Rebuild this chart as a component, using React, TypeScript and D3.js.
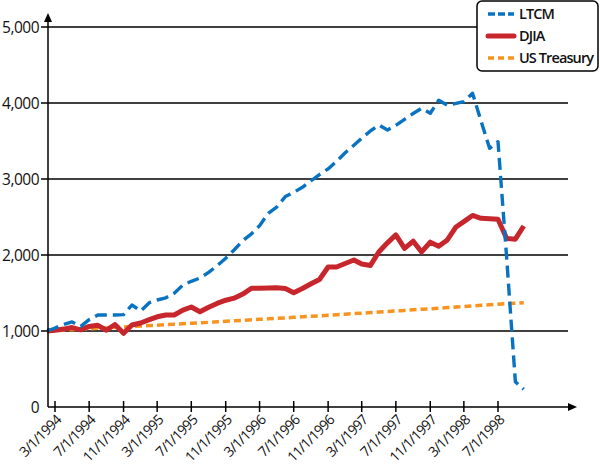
import React from "react";
import * as d3 from "d3";

// monthly observations, Feb 1994 .. Oct 1998
const firstMonth = new Date(1994, 1, 1);
const afterLastMonth = new Date(1998, 10, 1);
const months = d3.timeMonth.range(firstMonth, afterLastMonth);

// value of $1,000 invested
const ltcm = [
  1000, 1040, 1085, 1120, 1060, 1150, 1211, 1211, 1211, 1215, 1342, 1263,
  1373, 1408, 1436, 1496, 1605, 1654, 1697, 1771, 1858, 1957, 2066, 2188,
  2278, 2385, 2549, 2629, 2769, 2824, 2891, 2977, 3058, 3133, 3232, 3345,
  3444, 3537, 3632, 3711, 3645, 3706, 3785, 3862, 3931, 3865, 4036, 3970,
  3995, 4018, 4128, 3766, 3404, 3491, 1961, 333, 233,
];
const djia = [
  1000, 1010, 1025, 1045, 1015, 1060, 1075, 1010, 1086, 970, 1079, 1105,
  1149, 1187, 1211, 1211, 1274, 1316, 1254, 1313, 1363, 1405, 1432, 1486,
  1562, 1562, 1566, 1570, 1560, 1504, 1560, 1621, 1678, 1842, 1842, 1888,
  1935, 1882, 1862, 2040, 2160, 2264, 2088, 2182, 2040, 2169, 2116, 2198,
  2369, 2439, 2520, 2483, 2477, 2471, 2217, 2208, 2382,
];
const treasury = [
  1000, 1006, 1011, 1017, 1023, 1029, 1035, 1041, 1047, 1053, 1059, 1065,
  1071, 1077, 1083, 1089, 1095, 1102, 1108, 1114, 1121, 1127, 1134, 1140,
  1147, 1153, 1160, 1166, 1173, 1180, 1187, 1193, 1200, 1207, 1214, 1221,
  1228, 1235, 1242, 1250, 1257, 1264, 1271, 1279, 1286, 1293, 1301, 1308,
  1316, 1323, 1331, 1338, 1345, 1352, 1359, 1366, 1373,
];

const tickLabels = [
  "3/1/1994", "7/1/1994", "11/1/1994", "3/1/1995", "7/1/1995", "11/1/1995",
  "3/1/1996", "7/1/1996", "11/1/1996", "3/1/1997", "7/1/1997", "11/1/1997",
  "3/1/1998", "7/1/1998",
];
const yTicks = [0, 1000, 2000, 3000, 4000, 5000];

const series = [
  { name: "LTCM", values: ltcm, color: "#0a73c1", width: 3.4, dash: "12,6", legendDash: "7,3" },
  { name: "DJIA", values: djia, color: "#c8262d", width: 5, dash: null, legendDash: null },
  { name: "US Treasury", values: treasury, color: "#f7931e", width: 3.5, dash: "7,4", legendDash: "6,4" },
];

const font = "'Open Sans', sans-serif";

export default function App() {
  const width = 600,
    height = 466;
  const axisX = 48,
    axisY = 407;

  const parse = d3.timeParse("%m/%d/%Y");
  const xScale = d3
    .scaleTime()
    .domain([parse(tickLabels[0]), parse(tickLabels[tickLabels.length - 1])])
    .range([55, 498]);
  const yScale = d3.scaleLinear().domain([0, 5000]).range([axisY, 27]);
  const fmt = d3.format(",");

  const line = (vals) =>
    d3
      .line()
      .x((d, i) => xScale(months[i]))
      .y((d) => yScale(d))(vals);

  // draw order: bottom to top
  const drawOrder = [series[2], series[1], series[0]];

  return (
    <svg
      width={width}
      height={height}
      style={{ position: "absolute", left: 0, top: 0, background: "#fff" }}
    >
      {/* grid */}
      {yTicks.slice(1).map((t) => (
        <g key={t}>
          <line x1={axisX} x2={568} y1={yScale(t)} y2={yScale(t)} stroke="#000" strokeWidth={1.5} />
          <line x1={41} x2={axisX} y1={yScale(t)} y2={yScale(t)} stroke="#000" strokeWidth={1.5} />
        </g>
      ))}
      {yTicks.map((t) => (
        <text
          key={"l" + t}
          x={39}
          y={yScale(t)}
          dy="0.36em"
          textAnchor="end"
          fontFamily={font}
          fontSize={15.5}
          letterSpacing={-0.5}
          fill="#111"
        >
          {fmt(t)}
        </text>
      ))}

      {/* series */}
      {drawOrder.map((s) => (
        <path
          key={s.name}
          d={line(s.values)}
          fill="none"
          stroke={s.color}
          strokeWidth={s.width}
          strokeDasharray={s.dash || undefined}
          strokeLinejoin="round"
        />
      ))}

      {/* x axis */}
      <line x1={axisX} x2={571} y1={axisY} y2={axisY} stroke="#000" strokeWidth={1.5} />
      <path d={`M577,${axisY} L568,${axisY - 4} L568,${axisY + 4} Z`} fill="#000" />
      {tickLabels.map((lab) => {
        const x = xScale(parse(lab));
        return (
          <g key={lab}>
            <line x1={x} x2={x} y1={axisY - 6} y2={axisY + 5} stroke="#000" strokeWidth={1.5} />
            <text
              transform={`translate(${x + 7},${axisY + 14}) rotate(-45)`}
              textAnchor="end"
              fontFamily={font}
              fontSize={14}
              letterSpacing={-0.8}
              fill="#111"
            >
              {lab}
            </text>
          </g>
        );
      })}

      {/* y axis */}
      <line x1={axisX} x2={axisX} y1={axisY} y2={20} stroke="#000" strokeWidth={1.5} />
      <path d={`M${axisX},13 L${axisX - 4},22 L${axisX + 4},22 Z`} fill="#000" />

      {/* legend */}
      <g>
        <rect x={477} y={1} width={121} height={70} rx={5} fill="#fff" stroke="#000" strokeWidth={1.5} />
        {series.map((s, i) => {
          const ly = [14, 36, 58][i];
          return (
            <g key={s.name}>
              <line
                x1={488}
                x2={514}
                y1={ly}
                y2={ly}
                stroke={s.color}
                strokeWidth={s.dash ? 3.4 : 5}
                strokeDasharray={s.legendDash || undefined}
                strokeLinecap={s.dash ? "butt" : "round"}
              />
              <text
                x={519}
                y={ly}
                dy="0.36em"
                fontFamily={font}
                fontSize={14.5}
                fontWeight={600}
                letterSpacing={-0.9}
                fill="#111"
              >
                {s.name}
              </text>
            </g>
          );
        })}
      </g>
    </svg>
  );
}
